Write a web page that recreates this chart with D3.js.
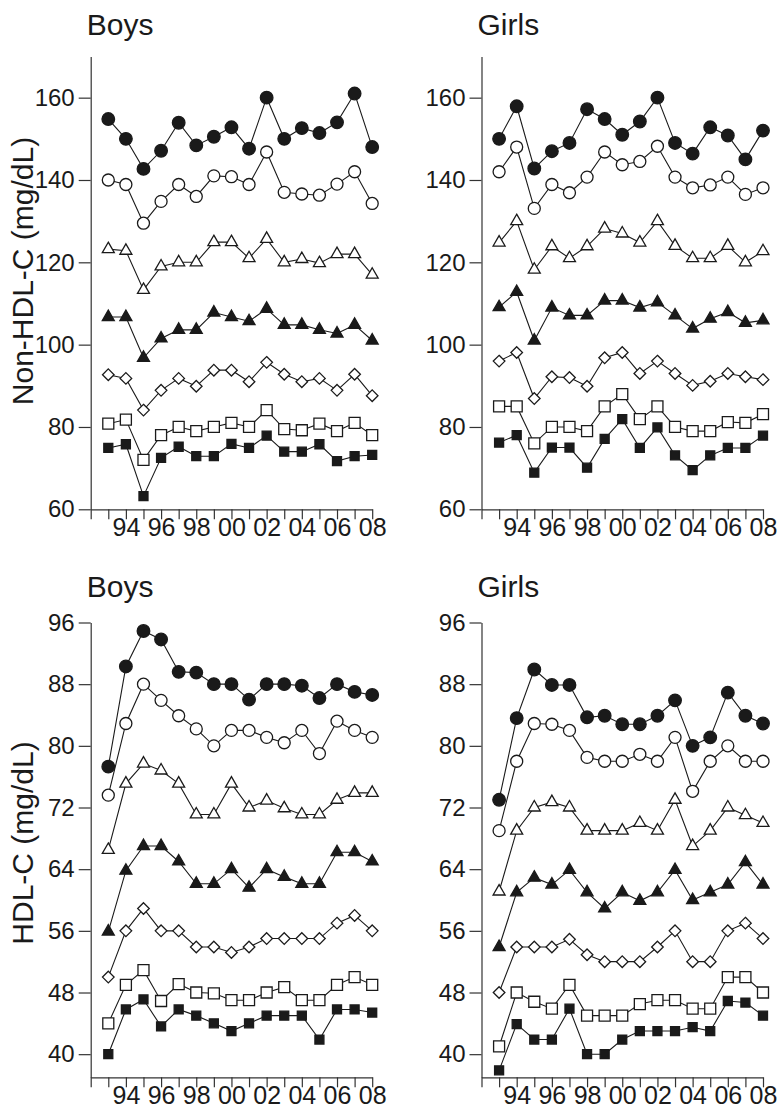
<!DOCTYPE html>
<html>
<head>
<meta charset="utf-8">
<script src="https://cdn.jsdelivr.net/npm/d3@7"></script>
<style>
  html, body { margin: 0; padding: 0; background: #fff; }
  svg { display: block; }
  text { font-family: "Liberation Sans", Arial, Helvetica, sans-serif; fill: #1a1a1a; }
</style>
</head>
<body>
<svg id="chart" width="778" height="1111"></svg>
<script>
// ---------------- DATA ----------------
const years = [1993,1994,1995,1996,1997,1998,1999,2000,2001,2002,2003,2004,2005,2006,2007,2008];
const xTickLabels = ["94","96","98","00","02","04","06","08"];
const nonHdlTicks = [60,80,100,120,140,160];
const hdlTicks = [40,48,56,64,72,80,88,96];
const seriesNames = ["p95","p90","p75","p50","p25","p10","p5"];

// Boys, non-HDL-C
const boysNonHdl_p95 = [154.8,150,142.7,147.1,153.9,148.4,150.5,152.8,147.6,160,150,152.6,151.4,154,161,148];
const boysNonHdl_p90 = [140,138.9,129.5,134.8,138.9,136,141,140.8,138.9,146.8,137,136.6,136.3,139,142,134.3];
const boysNonHdl_p75 = [123.2,122.8,113.3,119,120,120,124.9,124.9,121,125.7,120,120.8,119.8,122,122,117];
const boysNonHdl_p50 = [106.7,106.7,96.8,101.5,103.6,103.6,107.8,106.7,105.7,108.7,104.8,104.8,103.6,102.7,104.8,101];
const boysNonHdl_p25 = [92.7,91.8,84.1,88.9,91.8,89.9,93.8,93.8,91,95.7,92.8,91,91.8,88.9,92.8,87.6];
const boysNonHdl_p10 = [80.8,81.8,72,78,80,79,80,81,80,84.1,79.5,79.2,80.8,79,81,78];
const boysNonHdl_p5  = [74.9,75.8,63.2,72.5,75.2,72.9,72.9,75.9,74.9,77.9,74,74,75.8,71.7,72.9,73.2];

// Girls, non-HDL-C
const girlsNonHdl_p95 = [150,157.9,142.8,147,149,157.2,154.8,151,154.2,160,149,146.4,152.8,150.8,145,152];
const girlsNonHdl_p90 = [142,148,133.1,138.9,136.9,140.7,146.8,143.7,144.5,148.2,140.7,138.1,138.8,140.7,136.5,138.1];
const girlsNonHdl_p75 = [124.8,130,118.2,123.9,121,123.9,128.2,127,124.8,130,124,121,121,124,120,122.7];
const girlsNonHdl_p50 = [109.1,112.8,101,109,107.1,107.1,110.7,110.7,109,110.3,107.1,103.9,106.3,107.9,105.3,105.9];
const girlsNonHdl_p25 = [96,98.1,86.9,92.2,92,89.9,96.8,98.1,93,96,93,90.1,91.1,93,92.2,91.5];
const girlsNonHdl_p10 = [85,85,76,80,80,79,85,88,81.9,85,80,79,79,81.2,81,83.1];
const girlsNonHdl_p5  = [76.2,78,68.9,75,75,70.1,77.1,81.9,74.9,79.9,73.1,69.5,73.1,74.9,74.9,77.9];

// Boys, HDL-C
const boysHdl_p95 = [77.3,90.3,94.9,93.8,89.6,89.5,88,88,86,88,88,87.8,86.2,88,87,86.6];
const boysHdl_p90 = [73.6,82.9,88,85.9,83.9,82.2,80,82,82,81.1,80.4,82,79,83.2,82,81.1];
const boysHdl_p75 = [66.5,75.1,77.7,76.8,75.1,71.1,71.1,75.1,72,72.9,71.9,71.1,71.1,73,73.9,73.9];
const boysHdl_p50 = [55.9,63.8,67,67,65,62.1,62.1,64,61.6,64,63,62.1,62.1,66.2,66.2,65];
const boysHdl_p25 = [50,56,58.9,56,56,53.9,53.9,53.2,53.9,55,55,55,55,57,58,56];
const boysHdl_p10 = [44,49,50.9,46.9,49.1,48,47.9,47,47,48,48.7,47,47,49,50,49];
const boysHdl_p5  = [40,45.8,47.1,43.6,45.8,45,44,43,44,45,45,45,41.9,45.8,45.8,45.4];

// Girls, HDL-C
const girlsHdl_p95 = [73,83.6,89.9,87.9,87.9,83.7,83.9,82.8,82.8,83.9,85.9,80,81.1,86.9,83.9,82.9];
const girlsHdl_p90 = [69,78,82.9,82.8,82,78.5,78,78,78.9,78,81.1,74.1,78,80,78,78];
const girlsHdl_p75 = [61.1,69,72,72.7,72,69,69,69,70,69,73,67,69,72,71,70];
const girlsHdl_p50 = [53.9,61,62.9,62,63.9,61,58.9,61,59.9,61,63.9,60,61,62,64.9,62];
const girlsHdl_p25 = [48,53.9,53.9,53.9,54.9,52.9,52,52,52,53.9,56,52,52,56,57,55];
const girlsHdl_p10 = [41,48,46.8,45.9,49,45,45,45,46.5,47,47,45.9,45.9,50,50,48];
const girlsHdl_p5  = [37.9,43.9,41.9,41.9,45.9,40,40,41.9,43,43,43,43.5,43,46.9,46.7,45];

// ---------------- DRAW ----------------
const svg = d3.select("#chart");
const ink = "#1a1a1a";

const markerStyle = {
  p95: {shape: "circle",   fill: true,  size: 6.3},
  p90: {shape: "circle",   fill: false, size: 6.0},
  p75: {shape: "triangle", fill: false, size: 12},
  p50: {shape: "triangle", fill: true,  size: 12},
  p25: {shape: "diamond",  fill: false, size: 5.8},
  p10: {shape: "square",   fill: false, size: 11},
  p5:  {shape: "square",   fill: true,  size: 9}
};

function markerPath(shape, s) {
  if (shape === "triangle") {
    const h = s * 0.87;
    return `M0,${-2*h/3}L${s/2},${h/3}L${-s/2},${h/3}Z`;
  }
  if (shape === "diamond") {
    return `M0,${-s}L${s},0L0,${s}L${-s},0Z`;
  }
  if (shape === "square") {
    return `M${-s/2},${-s/2}H${s/2}V${s/2}H${-s/2}Z`;
  }
  return null;
}

const panels = [
  {title: "Boys",  x0: 90.7,  kind: "non", data: [boysNonHdl_p95,boysNonHdl_p90,boysNonHdl_p75,boysNonHdl_p50,boysNonHdl_p25,boysNonHdl_p10,boysNonHdl_p5]},
  {title: "Girls", x0: 481.5, kind: "non", data: [girlsNonHdl_p95,girlsNonHdl_p90,girlsNonHdl_p75,girlsNonHdl_p50,girlsNonHdl_p25,girlsNonHdl_p10,girlsNonHdl_p5]},
  {title: "Boys",  x0: 90.7,  kind: "hdl", data: [boysHdl_p95,boysHdl_p90,boysHdl_p75,boysHdl_p50,boysHdl_p25,boysHdl_p10,boysHdl_p5]},
  {title: "Girls", x0: 481.5, kind: "hdl", data: [girlsHdl_p95,girlsHdl_p90,girlsHdl_p75,girlsHdl_p50,girlsHdl_p25,girlsHdl_p10,girlsHdl_p5]}
];

const cfg = {
  non: {domain: [60,170], range: [509.3, 56.5], ticks: nonHdlTicks, titleY: 35},
  hdl: {domain: [37,96],  range: [1077.3, 622.5], ticks: hdlTicks, titleY: 597}
};

panels.forEach(p => {
  const c = cfg[p.kind];
  const x = d3.scaleLinear().domain([1992, 2008]).range([p.x0, p.x0 + 281.5]);
  const y = d3.scaleLinear().domain(c.domain).range(c.range);
  const g = svg.append("g");

  // title
  g.append("text").attr("x", p.x0 - 4).attr("y", c.titleY)
    .attr("font-size", 30).text(p.title);

  // y axis
  const yAxis = d3.axisLeft(y).tickValues(c.ticks).tickSize(12).tickPadding(4).tickSizeOuter(0);
  const ya = g.append("g").attr("transform", `translate(${p.x0},0)`).call(yAxis);
  ya.selectAll("text").attr("font-size", 24).attr("fill", ink)
    .style("font-family", '"Liberation Sans", Arial, sans-serif');

  // x axis
  const xVals = d3.range(1992, 2009);
  const xAxis = d3.axisBottom(x).tickValues(xVals).tickSize(10).tickPadding(-1).tickSizeOuter(0)
    .tickFormat(d => {
      const lab = String(d % 100).padStart(2, "0");
      return xTickLabels.includes(lab) && d !== 1992 ? lab : "";
    });
  const xa = g.append("g").attr("transform", `translate(0,${c.range[0]})`).call(xAxis);
  xa.selectAll("text").attr("font-size", 25).attr("fill", ink)
    .style("font-family", '"Liberation Sans", Arial, sans-serif');

  [ya, xa].forEach(a => {
    a.select(".domain").attr("stroke", "#333").attr("stroke-width", 1.2);
    a.selectAll(".tick line").attr("stroke", "#333").attr("stroke-width", 1.2);
  });

  // series
  const line = d3.line().x((d, i) => x(years[i])).y(d => y(d));
  p.data.forEach((vals, si) => {
    g.append("path").attr("d", line(vals)).attr("fill", "none")
      .attr("stroke", ink).attr("stroke-width", 1.1);
  });
  p.data.forEach((vals, si) => {
    const st = markerStyle[seriesNames[si]];
    const mg = g.append("g");
    vals.forEach((v, i) => {
      let m;
      if (st.shape === "circle") {
        m = mg.append("circle").attr("cx", x(years[i])).attr("cy", y(v)).attr("r", st.size);
      } else {
        m = mg.append("path").attr("d", markerPath(st.shape, st.size))
          .attr("transform", `translate(${x(years[i])},${y(v)})`);
      }
      m.attr("fill", st.fill ? ink : "#fff").attr("stroke", ink).attr("stroke-width", 1.3);
    });
  });
});

// y axis titles
svg.append("text").attr("transform", "translate(33,271) rotate(-90)")
  .attr("text-anchor", "middle").attr("font-size", 30).text("Non-HDL-C (mg/dL)");
svg.append("text").attr("transform", "translate(33,843) rotate(-90)")
  .attr("text-anchor", "middle").attr("font-size", 30).text("HDL-C (mg/dL)");
</script>
</body>
</html>
